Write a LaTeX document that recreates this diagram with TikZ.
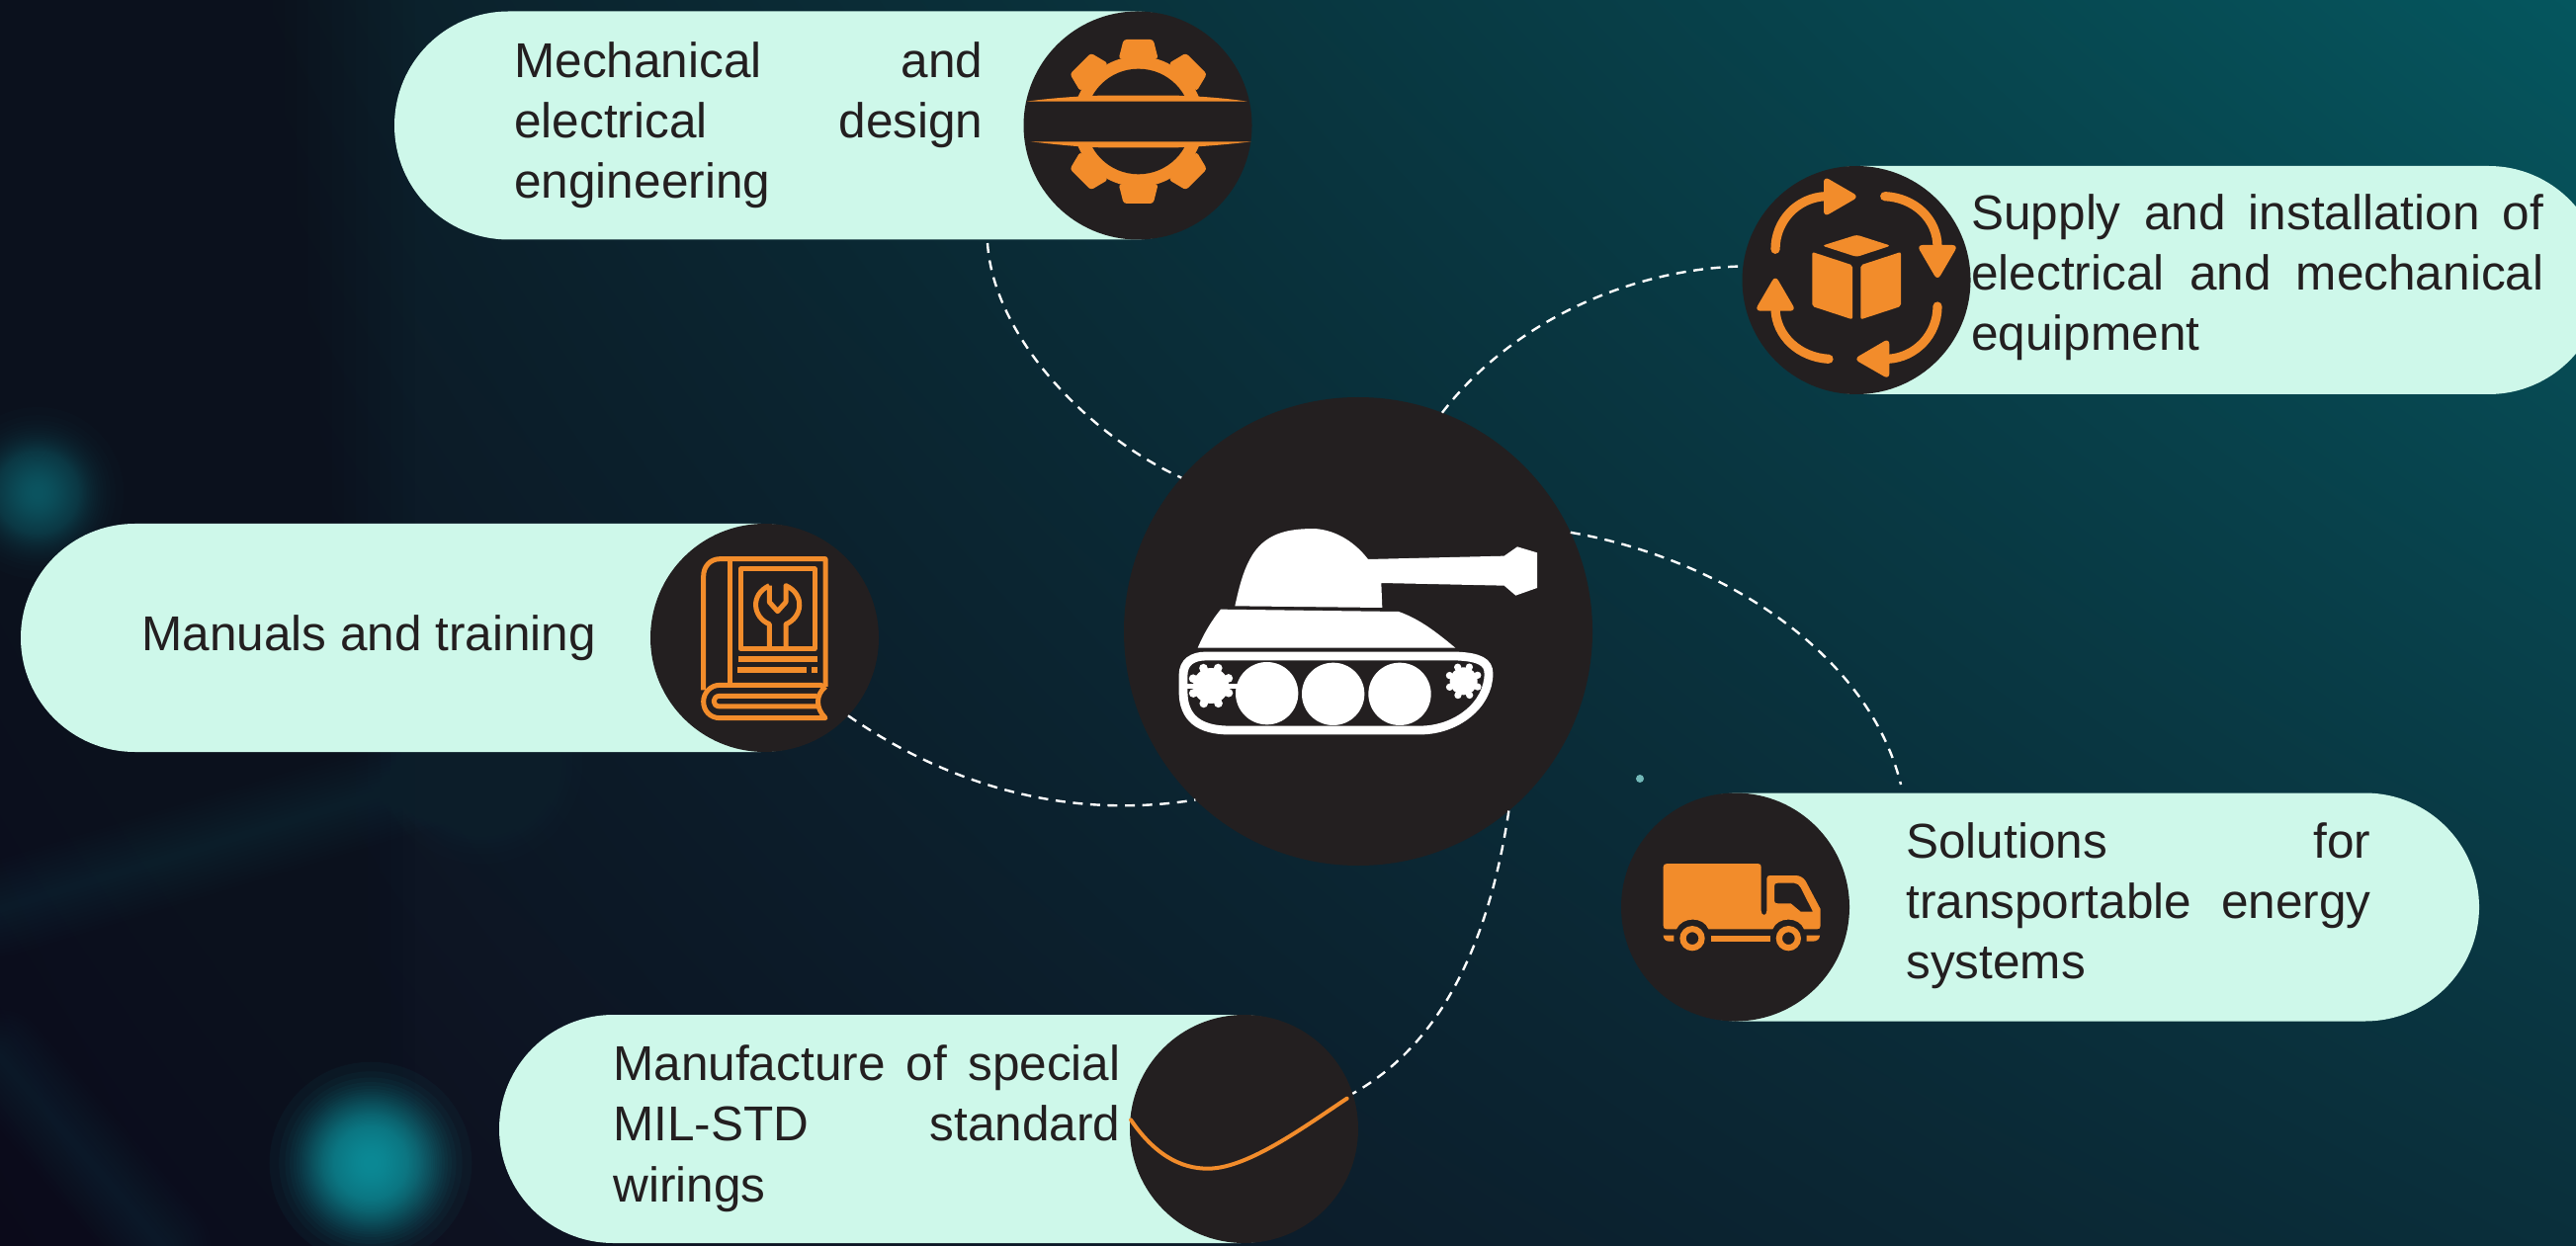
\documentclass[tikz,border=0pt]{standalone}
\usepackage{fontspec}
\usetikzlibrary{shadings}
\setmainfont{Liberation Sans}
\definecolor{pillc}{HTML}{CEF8EA}
\definecolor{disc}{HTML}{231F20}
\definecolor{orng}{HTML}{F28C2B}
\definecolor{tealA}{HTML}{0F9CA8}
\definecolor{bUL}{HTML}{0C1722}
\definecolor{bUR}{HTML}{05565E}
\definecolor{bLL}{HTML}{0E0A1A}
\definecolor{bLR}{HTML}{0A2F3B}
\definecolor{navyL}{HTML}{0B111D}
\newcommand{\glowat}[5]{\foreach \gk in {1,...,47}{\fill[#4,opacity=#5] (#1,#2) circle[radius={#3*sqrt(ln(48/\gk)/3.7)}];}}
\newcommand{\streak}[4]{\foreach \gk in {1,...,12}{\draw[#3,opacity=#4,line width={\gk*4pt},line cap=round] (#1) -- (#2);}}
\newcommand{\jl}[2]{\makebox[#1][s]{#2}}
\tikzset{
  pill/.style={fill=pillc,rounded corners=57.75pt,minimum height=115.5pt,inner sep=0pt,outer sep=0pt},
  disk/.style={circle,fill=disc,minimum size=115.5pt,inner sep=0pt,outer sep=0pt},
  hubdisk/.style={circle,fill=disc,minimum size=237pt,inner sep=0pt,outer sep=0pt},
  lbl/.style={anchor=west,inner sep=0pt,align=left,text=disc,font=\fontsize{24.75pt}{30.6pt}\selectfont},
  link/.style={white,line width=1.2pt,dash pattern=on 5pt off 3.8pt},
  icon/.style={orng,line width=2.5pt,line join=round},
}
\begin{document}
\begin{tikzpicture}[x=0.5pt,y=-0.5pt]
\useasboundingbox (0,0) rectangle (2606,1261);
\clip (0,0) rectangle (2606,1261);
% background
\shade[upper left=bUL, upper right=bUR, lower left=bLL, lower right=bLR] (0,0) rectangle (2606,1261);
\foreach \sx in {12,24,...,420}{\fill[navyL,opacity=0.06] (0,0) rectangle (\sx,1261);}
\glowat{38}{499}{85}{tealA}{0.02}
\glowat{375}{1177}{100}{tealA}{0.05}
\glowat{487}{772}{100}{tealA}{0.006}
\glowat{1900}{1097}{80}{tealA}{0.0045}
\streak{0,920}{487,772}{tealA}{0.007}
\streak{0,1070}{165,1261}{tealA}{0.007}
\streak{0,390}{250,530}{tealA}{0.005}
\streak{1950,1261}{1965,1190}{white}{0.004}
\fill[white!45!teal] (1659,788) circle[radius=4];
% main discs and pills
\node[hubdisk] (hub) at (1374,639) {};
\node[pill,minimum width=432pt] (pillA) at (831,127) {};
\node[pill,minimum width=433pt] (pillB) at (2200,283.5) {};
\node[pill,minimum width=432pt] (pillC) at (453,645.5) {};
\node[pill,minimum width=432pt] (pillD) at (2076,918) {};
\node[pill,minimum width=432.5pt] (pillE) at (937.5,1142.5) {};
\node[disk] (gearD) at (1151,127) {};
\node[disk] (boxD) at (1878,283.5) {};
\node[disk] (bookD) at (773.5,645.5) {};
\node[disk] (truckD) at (1755.5,918) {};
\node[disk] (wireD) at (1258.5,1142.5) {};
% connectors
\coordinate (endA) at (999,246);
\coordinate (endD) at (1923,794);
\draw[link] (endA) .. controls (1005,340) and (1100,440) .. (hub.139);
\draw[link] (hub.69) .. controls (1530,325) and (1650,272) .. (boxD.173);
\draw[link] (hub.25.7) .. controls (1740,565) and (1890,660) .. (endD);
\draw[link] (hub.-50.8) .. controls (1510,930) and (1470,1050) .. (wireD.18.6);
\draw[link] (bookD.-43.4) .. controls (960,795) and (1080,830) .. (hub.-134.3);
% labels
\node[lbl] (tA) at (520,127) {\jl{237pt}{Mechanical and}\\\jl{237pt}{electrical design}\\engineering};
\node[lbl] (tB) at (1994,280.5) {\jl{289.5pt}{Supply and installation of}\\\jl{289.5pt}{electrical and mechanical}\\equipment};
\node[lbl] (tC) at (143,646) {Manuals and training};
\node[lbl] (tD) at (1928,916.5) {\jl{235pt}{Solutions for}\\\jl{235pt}{transportable energy}\\systems};
\node[lbl] (tE) at (620,1142) {\jl{256.5pt}{Manufacture of special}\\\jl{256.5pt}{MIL-STD standard}\\wirings};
% gear icon
\begin{scope}[shift={(980,0)},scale=1/3]
  \foreach \a in {0,45,...,315}{
    \begin{scope}[shift={(515,369)},rotate=\a]
      \fill[orng,rounded corners=1.5pt] (-60,-190) -- (-45,-249) -- (45,-249) -- (60,-190) -- cycle;
    \end{scope}}
  \fill[orng] (515,369) circle[radius=198];
  \fill[disc] (515,369) circle[radius=160];
  \fill[disc] (255,300) rectangle (775,438);
  \fill[orng] (175,308) .. controls (250,298) and (330,292) .. (400,290) -- (630,290) .. controls (700,292) and (780,298) .. (845,308) -- cycle;
  \fill[orng] (188,430) .. controls (260,438) and (330,446) .. (400,448) -- (630,448) .. controls (700,446) and (790,438) .. (858,430) -- cycle;
\end{scope}
% box icon
\begin{scope}[shift={(1740,150)},scale=1/3]
  \fill[orng,rounded corners=1.5pt] (310,296) -- (415,263) -- (518,296) -- (415,330) -- cycle;
  \fill[orng,rounded corners=1pt] (280,315) -- (402,355) -- (402,520) -- (280,480) -- cycle;
  \fill[orng,rounded corners=1pt] (427,355) -- (549,315) -- (549,480) -- (427,520) -- cycle;
  \begin{scope}[orng,line width=4.6pt,line cap=round]
    \draw (168,307) .. controls (168,220) and (235,150) .. (320,146);
    \draw (500,146) .. controls (590,150) and (660,215) .. (660,300);
    \draw (660,480) .. controls (660,565) and (595,635) .. (510,640);
    \draw (330,640) .. controls (240,635) and (170,570) .. (168,488);
  \end{scope}
  \fill[orng,rounded corners=3pt] (315,85) -- (422,147) -- (315,209) -- cycle;
  \fill[orng,rounded corners=3pt] (597,294) -- (723,294) -- (660,402) -- cycle;
  \fill[orng,rounded corners=3pt] (514,577) -- (514,702) -- (406,640) -- cycle;
  \fill[orng,rounded corners=3pt] (105,494) -- (231,494) -- (168,386) -- cycle;
\end{scope}
% book icon
\begin{scope}[shift={(640,520)},scale=1/3]
  \draw[icon] (215,535) -- (215,190) .. controls (215,160) and (235,137) .. (265,137) -- (585,137) -- (585,525);
  \draw[icon] (296,137) -- (296,520);
  \draw[icon] (327,168) rectangle (552,410);
  \draw[icon] (415,218) -- (415,268) -- (440,296) -- (465,268) -- (465,218) .. controls (525,245) and (515,315) .. (465,335) -- (465,408);
  \draw[icon] (415,218) .. controls (355,245) and (365,315) .. (415,335) -- (415,408);
  \fill[orng] (320,432) rectangle (560,450);
  \fill[orng] (318,465) rectangle (527,483);
  \fill[orng] (543,465) rectangle (560,483);
  \draw[icon] (585,525) -- (570,520) -- (265,520) .. controls (235,520) and (215,545) .. (215,570) .. controls (215,598) and (235,620) .. (265,620) -- (585,620) .. controls (555,590) and (555,550) .. (585,525);
  \draw[icon] (560,553) -- (265,553) .. controls (240,553) and (240,585) .. (265,585) -- (560,585);
\end{scope}
% truck icon
\begin{scope}[shift={(1630,800)},scale=1/3]
  \fill[orng,even odd rule] (170,222) -- (445,222) .. controls (452,222) and (455,226) .. (455,232) -- (455,365) .. controls (455,382) and (472,382) .. (472,365) -- (472,268) .. controls (472,261) and (476,258) .. (482,258) -- (560,258) .. controls (572,258) and (584,265) .. (590,275) -- (635,360) -- (635,410) .. controls (635,418) and (631,421) .. (625,421) -- (585,421) .. controls (570,382) and (505,382) .. (490,421) -- (295,421) .. controls (280,382) and (215,382) .. (198,421) -- (168,421) .. controls (161,421) and (158,417) .. (158,410) -- (158,232) .. controls (158,226) and (162,222) .. (170,222) -- cycle
    (495,290) .. controls (495,284) and (498,281) .. (505,281) -- (555,281) .. controls (565,281) and (570,287) .. (575,295) -- (612,368) -- (575,368) -- (545,343) -- (505,343) .. controls (498,343) and (495,340) .. (495,335) -- cycle;
  \fill[orng,even odd rule] (246,449) circle[radius=38] (246,449) circle[radius=19];
  \fill[orng,even odd rule] (538,449) circle[radius=38] (538,449) circle[radius=19];
  \fill[orng] (302,440) rectangle (483,458);
  \fill[orng] (158,440) -- (190,440) -- (190,458) -- (175,458) .. controls (165,458) and (158,450) .. (158,440) -- cycle;
  \fill[orng] (593,440) -- (633,440) .. controls (633,450) and (625,458) .. (612,458) -- (593,458) -- cycle;
\end{scope}
% wiring icon
\begin{scope}[shift={(1120,1010)},scale=1/3]
  \draw[orng,line width=2pt,line cap=round] (72,370) .. controls (140,470) and (220,520) .. (310,518) .. controls (430,515) and (600,390) .. (728,305);
\end{scope}
% tank icon
\begin{scope}[shift={(1120,500)},scale=1/3]
  \fill[white] (388,340) .. controls (405,260) and (425,190) .. (470,150) .. controls (510,115) and (560,105) .. (630,105) .. controls (700,110) and (755,150) .. (792,198) -- (1205,188) -- (1245,160) -- (1305,178) -- (1305,285) -- (1240,308) -- (1205,278) -- (832,270) -- (835,345) -- cycle;
  \fill[white] (345,350) -- (885,357) .. controls (950,380) and (1000,420) .. (1057,467) -- (275,467) .. controls (295,420) and (320,380) .. (345,350) -- cycle;
  \begin{scope}
    \clip (150,460) rectangle (1250,731);
    \draw[white,line width=4.4pt] (300,492) -- (1060,492) .. controls (1130,495) and (1158,510) .. (1158,545) .. controls (1158,640) and (1060,717) .. (950,717) -- (370,717) .. controls (280,717) and (231,680) .. (231,600) -- (231,550) .. controls (231,510) and (260,492) .. (300,492) -- cycle;
  \end{scope}
  \fill[white] (485,605) circle[radius=95];
  \fill[white] (686,607) circle[radius=95];
  \fill[white] (888,607) circle[radius=95];
  \fill[white] (315,582) circle[radius=54];
  \foreach \a in {0,45,...,315}{\fill[white] (315,582) ++(\a+22:58) circle[radius=13];}
  \fill[white] (240,577) rectangle (320,590);
  \fill[white] (320,577) rectangle (395,590);
  \fill[white] (1082,568) circle[radius=42];
  \foreach \a in {0,45,...,315}{\fill[white] (1082,568) ++(\a+22:46) circle[radius=11];}
\end{scope}
\end{tikzpicture}
\end{document}
